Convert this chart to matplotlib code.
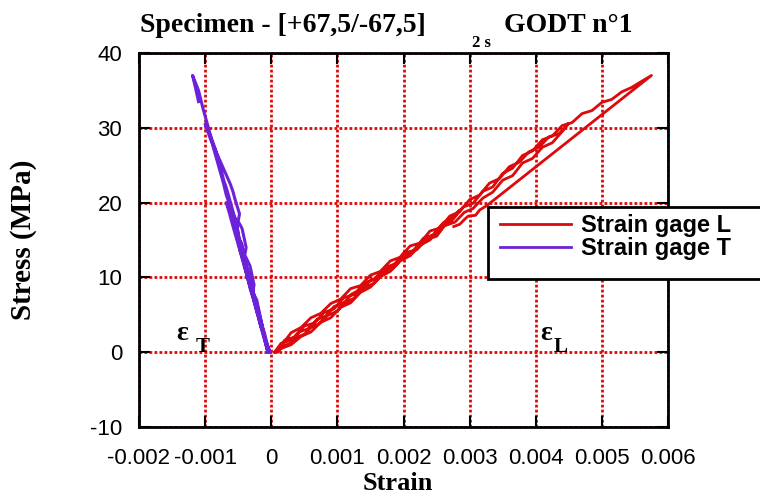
import matplotlib
matplotlib.use("Agg")
import matplotlib.pyplot as plt
from matplotlib.patches import Rectangle
import numpy as np

# strain in units of 1e-3, stress in MPa; loading / unloading cycles
gage_l_strain = [
    0.05, 0.12, 0.2, 0.3, 0.38, 0.5, 0.6, 0.72, 0.85, 1.0, 1.1, 1.25, 1.4, 1.55, 1.7,
    1.85, 2.0, 2.15, 2.3, 2.45, 2.6, 2.75, 2.85,
    2.7, 2.55, 2.4, 2.25, 2.1, 1.95, 1.8, 1.65, 1.5, 1.35, 1.2, 1.05, 0.9, 0.75, 0.6,
    0.45, 0.3, 0.15, 0.05,
    0.15, 0.3, 0.42, 0.55, 0.7, 0.82, 0.95, 1.1, 1.22, 1.35, 1.5, 1.62, 1.78, 1.9, 2.05,
    2.2, 2.35, 2.5, 2.62, 2.78, 2.92, 3.05, 3.2, 3.35, 3.5, 3.65, 3.8, 3.95, 4.1, 4.25,
    4.4, 4.5,
    4.35, 4.2, 4.05, 3.9, 3.75, 3.6, 3.45, 3.3, 3.15, 3.0, 2.85, 2.7, 2.55, 2.4, 2.25,
    2.1, 1.95, 1.8, 1.65, 1.5, 1.35, 1.2, 1.05, 0.9, 0.75, 0.6, 0.45, 0.3, 0.18, 0.1,
    0.2, 0.35, 0.5, 0.65, 0.8, 0.95, 1.1, 1.25, 1.4, 1.55, 1.7, 1.85, 2.0, 2.15, 2.3,
    2.45, 2.6, 2.75, 2.9, 3.05, 3.2, 3.35, 3.5, 3.65, 3.8, 3.95, 4.1, 4.25, 4.4, 4.55,
    4.7, 4.85, 5.0, 5.15, 5.3, 5.45, 5.6, 5.75,
    3.26, 3.15, 3.09, 2.98, 2.94, 2.85, 2.76,
]
gage_l_stress = [
    0.0, 0.3, 0.9, 1.2, 2.0, 2.4, 3.3, 3.8, 4.9, 5.5, 6.6, 7.2, 8.6, 9.2, 10.6,
    11.3, 12.8, 13.4, 14.9, 15.6, 17.2, 18.0, 19.0,
    17.3, 16.6, 15.0, 14.3, 12.9, 12.2, 10.8, 10.1, 8.7, 8.0, 6.6, 6.0, 4.6, 4.0, 2.7,
    2.1, 1.0, 0.5, 0.0,
    1.2, 1.6, 2.7, 3.1, 4.4, 4.8, 6.1, 6.6, 7.8, 8.3, 9.6, 10.0, 11.5, 11.9, 13.2,
    13.7, 15.1, 15.5, 16.9, 17.4, 18.7, 19.2, 20.6, 21.4, 23.0, 23.6, 25.3, 25.9, 27.4,
    28.0, 29.5, 30.6,
    29.2, 28.8, 27.4, 26.8, 25.4, 24.8, 23.2, 22.6, 21.0, 20.4, 18.8, 18.2, 16.6, 16.2,
    14.6, 14.2, 12.7, 12.2, 10.8, 10.3, 8.9, 8.5, 7.1, 6.5, 5.2, 4.6, 3.3, 2.6, 1.2, 0.0,
    1.6, 2.0, 3.5, 3.9, 5.3, 5.8, 7.3, 7.7, 9.2, 9.7, 11.1, 11.6, 13.2, 13.6, 15.2,
    15.7, 17.3, 17.8, 19.4, 19.9, 21.5, 22.1, 23.9, 24.6, 26.3, 26.9, 28.4, 28.9, 30.3,
    30.7, 31.9, 32.3, 33.4, 33.8, 34.8, 35.4, 36.2, 37.0,
    19.6, 19.0, 18.3, 18.2, 17.9, 17.1, 16.8,
]

gage_t_strain = [
    -0.05, -0.12, -0.16, -0.2, -0.28, -0.31, -0.36, -0.44, -0.47, -0.52, -0.6, -0.63,
    -0.68,
    -0.6, -0.55, -0.52, -0.48, -0.45, -0.42, -0.36, -0.33, -0.3, -0.24, -0.22, -0.18,
    -0.12, -0.1, -0.06, -0.02,
    -0.1, -0.18, -0.22, -0.25, -0.32, -0.36, -0.38, -0.45, -0.5, -0.52, -0.6, -0.68,
    -0.72, -0.76, -0.84, -0.92, -1.0,
    -0.92, -0.82, -0.72, -0.62, -0.58, -0.55, -0.48, -0.5, -0.44, -0.38, -0.4, -0.32,
    -0.26, -0.28, -0.22, -0.16, -0.1, -0.05,
    -0.12, -0.2, -0.28, -0.32, -0.36, -0.43, -0.47, -0.5, -0.57, -0.64, -0.68, -0.72,
    -0.8, -0.88, -0.95, -1.03, -1.1, -1.19,
    -1.15, -1.1,
]
gage_t_stress = [
    0.0, 2.5, 3.5, 5.0, 7.5, 8.5, 10.0, 12.5, 13.5, 15.0, 17.5, 18.5, 20.0,
    18.5, 18.0, 17.0, 15.0, 14.5, 13.0, 11.0, 10.5, 9.0, 7.0, 6.5, 5.0, 3.0, 2.5, 1.0,
    0.0,
    2.0, 4.5, 5.5, 7.0, 9.5, 10.5, 12.0, 14.5, 15.5, 17.0, 19.5, 22.0, 23.0, 24.5,
    27.0, 29.0, 30.5,
    28.5, 26.5, 24.5, 22.5, 21.5, 20.5, 18.5, 17.5, 16.5, 14.0, 13.0, 11.5, 9.0, 8.0,
    7.0, 4.5, 2.0, 0.0,
    2.2, 4.8, 7.4, 8.5, 10.0, 12.5, 13.5, 15.0, 17.5, 20.0, 21.0, 22.5, 25.0, 27.5,
    30.0, 32.5, 35.0, 37.0,
    35.5, 33.5,
]

x_ticks = [-0.002, -0.001, 0, 0.001, 0.002, 0.003, 0.004, 0.005, 0.006]
x_labels = ["-0.002", "-0.001", "0", "0.001", "0.002", "0.003", "0.004", "0.005", "0.006"]
y_ticks = [-10, 0, 10, 20, 30, 40]
y_labels = ["-10", "0", "10", "20", "30", "40"]

RED = "#dc0a0a"
PURPLE = "#6c22d8"
SERIF = "Liberation Serif"
SANS = "Liberation Sans"

fig = plt.figure(figsize=(7.6, 4.96), dpi=100)
ax = fig.add_axes([139 / 760, 1 - 427 / 496, (668 - 139) / 760, (427 - 53) / 496])

ax.plot(np.array(gage_l_strain) * 1e-3, gage_l_stress, color=RED, lw=2, zorder=3)
ax.plot(np.array(gage_t_strain) * 1e-3, gage_t_stress, color=PURPLE, lw=2.2, zorder=3)

ax.set_xlim(-0.002, 0.006)
ax.set_ylim(-10, 40)
ax.set_xticks(x_ticks)
ax.set_xticklabels(x_labels, fontfamily=SANS, fontsize=16)
ax.set_yticks(y_ticks)
ax.set_yticklabels(y_labels, fontfamily=SANS, fontsize=16)

ax.grid(True, color=RED, linestyle=(0, (1, 0.8)), lw=2, zorder=1)
ax.tick_params(direction="in", length=8, width=1.5, top=True, right=True)
ax.tick_params(axis="x", pad=15)
ax.tick_params(axis="y", pad=12)
for s in ax.spines.values():
    s.set_linewidth(2)
    s.set_zorder(4)

fig.text(398 / 760, 1 - 484 / 496, "Strain", fontfamily=SERIF, fontweight="bold",
         fontsize=19, ha="center", va="center")
fig.text(24 / 760, 1 - 240 / 496, "Stress (MPa)", fontfamily=SERIF, fontweight="bold",
         fontsize=21, ha="center", va="center", rotation=90)

# title pieces
fig.text(283 / 760, 1 - 26 / 496, "Specimen - [+67,5/-67,5]", fontfamily=SERIF,
         fontweight="bold", fontsize=20, ha="center", va="center")
fig.text(481 / 760, 1 - 43 / 496, "2 s", fontfamily=SERIF, fontweight="bold",
         fontsize=12, ha="center", va="center")
fig.text(568 / 760, 1 - 26 / 496, "GODT n°1", fontfamily=SERIF, fontweight="bold",
         fontsize=20, ha="center", va="center")

# strain gage annotations
for ex, sx, sub in [(182, 203, "T"), (546, 561, "L")]:
    fig.text(ex / 760, 1 - 333 / 496, "ε", fontfamily=SERIF, fontweight="bold",
             fontsize=20, ha="center", va="center")
    fig.text(sx / 760, 1 - 347 / 496, sub, fontfamily=SERIF, fontweight="bold",
             fontsize=15, ha="center", va="center")

# legend box runs past the right edge of the figure
box = Rectangle((488 / 760, 1 - 279 / 496), 300 / 760, 72 / 496, transform=fig.transFigure,
                facecolor="white", edgecolor="black", lw=2, zorder=5, clip_on=False)
fig.patches.append(box)
handles = [plt.Line2D([0], [0], color=RED, lw=2), plt.Line2D([0], [0], color=PURPLE, lw=2)]
leg = fig.legend(handles, ["Strain gage L", "Strain gage T"], loc="upper left",
                 bbox_to_anchor=(500 / 760, 1 - 214 / 496), frameon=False,
                 prop={"family": SANS, "weight": "bold", "size": 17},
                 handlelength=3.0, handletextpad=0.45, labelspacing=0.0, borderaxespad=0,
                 borderpad=0)
leg.set_zorder(6)

fig.savefig("out.png", dpi=100)
